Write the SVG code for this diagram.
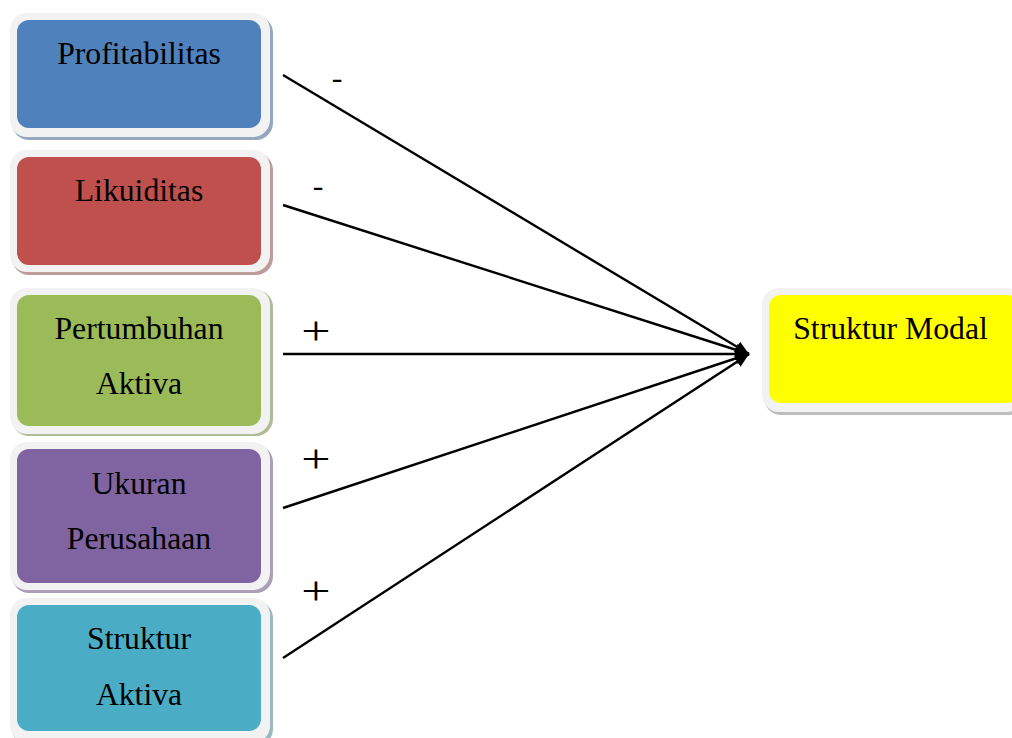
<svg xmlns="http://www.w3.org/2000/svg" width="1012" height="738" viewBox="0 0 1012 738">
<style>
.frame{fill:#F2F2F2}
.lbl{font-family:"Liberation Serif","Times New Roman",serif;font-size:31.7px;fill:#000;text-anchor:middle}
.minus{font-family:"Liberation Serif","Times New Roman",serif;font-size:32px;fill:#000;text-anchor:middle}
.plus{font-family:"Liberation Serif","Times New Roman",serif;font-size:40px;fill:#000;text-anchor:middle}
.conn{stroke:#000;stroke-width:2.4;fill:none;marker-end:url(#ah)}
</style>
<defs>
<marker id="ah" viewBox="0 0 14 12" refX="14" refY="6" markerWidth="14" markerHeight="12" markerUnits="userSpaceOnUse" orient="auto">
<path d="M0,0 L14,6 L0,12 Z" fill="#000"/>
</marker>
</defs>
<rect width="1012" height="738" fill="#fff"/>
<g id="profitabilitas">
<rect x="12" y="16" width="261" height="124" rx="17" fill="#95A7BF"/>
<rect x="10" y="13" width="260" height="124" rx="17" class="frame"/>
<rect x="17" y="20" width="244" height="108" rx="12" fill="#4F81BD"/>
<text x="139" y="64" class="lbl">Profitabilitas</text>
</g>
<g id="likuiditas">
<rect x="12" y="153" width="261" height="122" rx="17" fill="#BE9C9B"/>
<rect x="10" y="150" width="260" height="122" rx="17" class="frame"/>
<rect x="17" y="157" width="244" height="108" rx="12" fill="#C0504D"/>
<text x="139" y="201" class="lbl">Likuiditas</text>
</g>
<g id="pertumbuhan">
<rect x="12" y="290" width="261" height="146" rx="17" fill="#AFBC98"/>
<rect x="10" y="288" width="260" height="146" rx="17" class="frame"/>
<rect x="17" y="295" width="244" height="131" rx="12" fill="#9BBB59"/>
<text x="139" y="339" class="lbl">Pertumbuhan</text>
<text x="139" y="394" class="lbl">Aktiva</text>
</g>
<g id="ukuran">
<rect x="12" y="445" width="261" height="148" rx="17" fill="#ABA0B7"/>
<rect x="10" y="442" width="260" height="148" rx="17" class="frame"/>
<rect x="17" y="449" width="244" height="134" rx="12" fill="#8064A2"/>
<text x="139" y="494" class="lbl">Ukuran</text>
<text x="139" y="549" class="lbl">Perusahaan</text>
</g>
<g id="struktur-aktiva">
<rect x="12" y="601" width="261" height="145" rx="17" fill="#9BB8C0"/>
<rect x="10" y="598" width="260" height="145" rx="17" class="frame"/>
<rect x="17" y="605" width="244" height="126" rx="12" fill="#4BACC6"/>
<text x="139" y="649" class="lbl">Struktur</text>
<text x="139" y="705" class="lbl">Aktiva</text>
</g>
<g id="struktur-modal">
<rect x="764" y="291" width="262" height="124" rx="17" fill="#BDBDBD"/>
<rect x="762" y="288" width="262" height="124" rx="17" class="frame"/>
<rect x="769" y="295" width="250" height="108" rx="12" fill="#FFFF00"/>
<text x="890.5" y="339" class="lbl">Struktur Modal</text>
</g>
<g id="connectors">
<line x1="283" y1="75" x2="749" y2="354" class="conn"/>
<line x1="283" y1="205" x2="749" y2="354" class="conn"/>
<line x1="283" y1="354" x2="749" y2="354" class="conn"/>
<line x1="283" y1="508" x2="749" y2="354" class="conn"/>
<line x1="283" y1="658" x2="749" y2="354" class="conn"/>
</g>
<g id="signs">
<text x="337" y="88" class="minus">-</text>
<text x="318" y="196" class="minus">-</text>
<text transform="translate(316,344) scale(1.3,1)" class="plus">+</text>
<text transform="translate(316,472) scale(1.3,1)" class="plus">+</text>
<text transform="translate(316,604) scale(1.3,1)" class="plus">+</text>
</g>
</svg>
